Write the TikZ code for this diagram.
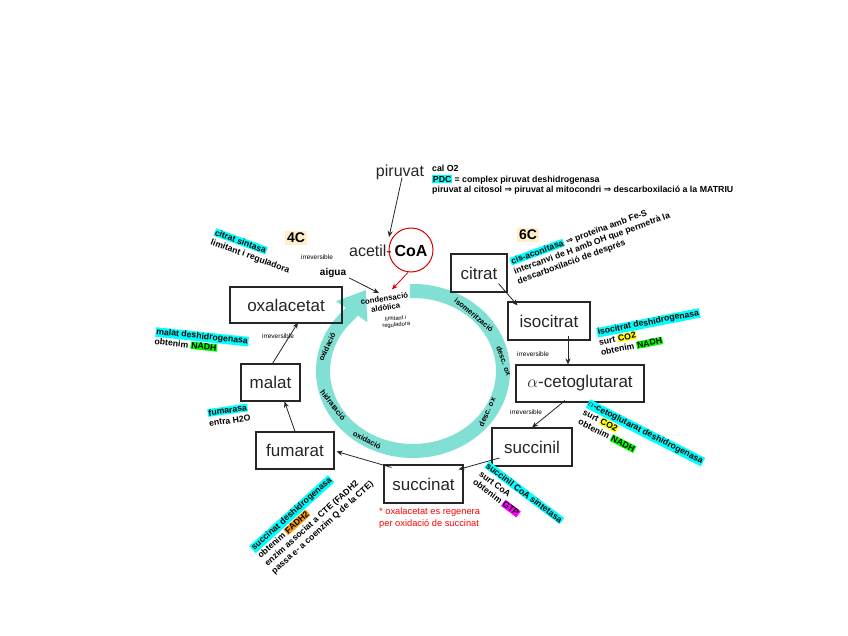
\documentclass[tikz,border=0pt]{standalone}
\usepackage{fontspec}
\setmainfont{Liberation Sans}
\newfontfamily\djv{DejaVu Sans}
\usetikzlibrary{arrows.meta}
\definecolor{ringc}{RGB}{128,224,212}
\definecolor{hcyan}{RGB}{0,255,255}
\definecolor{hyel}{RGB}{255,255,0}
\definecolor{hgreen}{RGB}{0,255,0}
\definecolor{horange}{RGB}{255,153,0}
\definecolor{hmag}{RGB}{255,0,255}
\definecolor{beige}{RGB}{255,238,200}
\newcommand{\hlb}[2]{{\setlength{\fboxsep}{0.7pt}\colorbox{#1}{#2}}}
\newcommand{\impl}{{\djv ⇒}}
\tikzset{
  metab/.style={draw=black!85, line width=1.1pt, inner sep=0pt, font=\fontsize{17}{18}\selectfont, text=black!85},
  arr/.style={-{Stealth[length=6pt,width=5pt]}, line width=0.8pt, black!85},
  enz/.style={anchor=north west, align=left, inner sep=0pt, font=\fontsize{8.7}{10.3}\selectfont\bfseries},
  cyc/.style={inner sep=0pt, font=\fontsize{7.5}{8}\selectfont\bfseries},
  irr/.style={inner sep=0pt, font=\fontsize{6.5}{7}\selectfont},
  cc/.style={fill=beige, inner sep=2pt, font=\fontsize{14}{15}\selectfont\bfseries}
}
\begin{document}
\begin{tikzpicture}[x=1pt,y=-1pt]
\useasboundingbox[fill=white] (0,0) rectangle (848,636);

% ring
\draw[ringc, line width=14pt, -{Triangle[width=36pt,length=26pt]}]
  (413+90*cos -92, 371+80*sin -92) arc[start angle=-92, end angle=226, x radius=90, y radius=80] -- (366,290);

% metabolites
\node[metab, minimum width=56pt, minimum height=38pt] (citrat) at (479,273) {citrat};
\node[metab, minimum width=82pt, minimum height=38pt] (isocitrat) at (549,321) {isocitrat};
\node[metab, minimum width=128pt, minimum height=37pt] (acg) at (580,383.5) {$\alpha$-cetoglutarat};
\node[metab, minimum width=80pt, minimum height=38pt] (succinil) at (532,447) {succinil};
\node[metab, minimum width=79pt, minimum height=38pt] (succinat) at (423.5,484) {succinat};
\node[metab, minimum width=78pt, minimum height=37pt] (fumarat) at (295,450.5) {fumarat};
\node[metab, minimum width=59pt, minimum height=37pt] (malat) at (270.5,382.5) {malat};
\node[metab, minimum width=112pt, minimum height=36pt] (oxal) at (286,305) {oxalacetat};

\draw[arr] ([shift={(-9,-9)}]citrat.south east) -- ([shift={(10,4)}]isocitrat.north west);
\draw[arr] ([shift={(19,-5)}]isocitrat.south) -- ([shift={(-12,0)}]acg.north);
\draw[arr] ([shift={(-15,-2)}]acg.south) -- (succinil.north);
\draw[arr] ([shift={(8,11)}]succinil.west) -- ([shift={(-5,5)}]succinat.north east);
\draw[arr] ([shift={(8,3)}]succinat.north west) -- ([shift={(2,1)}]fumarat.east);
\draw[arr] (fumarat.north) -- ([shift={(14,0)}]malat.south);
\draw[arr] ([shift={(2,0)}]malat.north) -- ([shift={(12,-1)}]oxal.south);

% pyruvate / acetyl-CoA
\node[inner sep=0pt, font=\fontsize{16}{18}\selectfont, text=black!85] (piruvat) at (400,172) {piruvat};
\node[anchor=north west, align=left, inner sep=0pt, font=\fontsize{8.8}{10.6}\selectfont\bfseries] (pdc) at (432,165)
 {cal O2\\ \hlb{hcyan}{PDC} = complex piruvat deshidrogenasa\\ piruvat al citosol \impl{} piruvat al mitocondri \impl{} descarboxilació a la MATRIU};
\node[anchor=east, inner sep=0pt, font=\fontsize{16}{18}\selectfont, text=black!85] (acetil) at (392,251) {acetil-};
\node[inner sep=0pt, font=\fontsize{16}{18}\selectfont\bfseries] (coalbl) at (411,251) {CoA};
\node[draw=red!85!black, line width=1pt, circle, minimum size=44pt, inner sep=0pt] (coa) at (411,250) {};
\draw[arr] ([shift={(2,-2)}]piruvat.south) -- ([shift={(-3,-8)}]acetil.north east);

\node[inner sep=0pt, font=\fontsize{10}{11}\selectfont\bfseries] (aigua) at (333,273) {aigua};
\node[cyc, rotate=8, align=center, font=\fontsize{7.8}{9}\selectfont\bfseries] (cond) at (385,303) {condensació\\aldòlica};
\node[irr, rotate=5, align=center, font=\fontsize{5.8}{6.5}\selectfont] (limit) at (396,322) {limitant i\\reguladora};
\coordinate (condtop) at (379,293);
\draw[arr] ([shift={(3,5)}]aigua.east) -- (condtop);
\draw[arr, red!85!black] ([shift={(-3,0)}]coa.south) -- ([shift={(8,-6)}]cond.north);

% 4C / 6C
\node[cc] (c4) at (296,238) {4C};
\node[cc] (c6) at (528,235) {6C};

% irreversible
\node[irr] (irr1) at (317,257) {irreversible};
\node[irr] (irr2) at (278,336) {irreversible};
\node[irr] (irr3) at (533,354) {irreversible};
\node[irr] (irr4) at (526,412) {irreversible};

% ring labels
\node[cyc, rotate=-40] (l1) at (474,315) {isomerització};
\node[cyc, rotate=-70] (l2) at (504,361) {desc. ox};
\node[cyc, rotate=66] (l3) at (487,412) {desc. ox};
\node[cyc, rotate=-28] (l4) at (367,440) {oxidació};
\node[cyc, rotate=-52] (l5) at (333,405) {hidratació};
\node[cyc, rotate=65] (l6) at (327,347) {oxidació};

% enzymes
\node[enz, rotate=-20] (cs) at (216,228) {\hlb{hcyan}{citrat sintasa}\\ limitant i reguladora};
\node[enz, rotate=20] (aco) at (509,258) {\hlb{hcyan}{cis-aconitasa} \impl{} proteïna amb Fe-S\\ intercanvi de H amb OH que permetrà la\\ descarboxilació de després};
\node[enz, rotate=11] (idh) at (596,328) {\hlb{hcyan}{isocitrat deshidrogenasa}\\ surt \hlb{hyel}{CO2}\\ obtenim \hlb{hgreen}{NADH}};
\node[enz, rotate=-27] (kdh) at (590,399) {\hlb{hcyan}{$\alpha$-cetoglutarat deshidrogenasa}\\ surt \hlb{hyel}{CO2}\\ obtenim \hlb{hgreen}{NADH}};
\node[enz, rotate=-37] (scs) at (489,461) {\hlb{hcyan}{succinil CoA sintetasa}\\ surt CoA\\ obtenim \hlb{hmag}{GTP}};
\node[enz, rotate=42] (sdh) at (249,546) {\hlb{hcyan}{succinat deshidrogenasa}\\ obtenim \hlb{horange}{FADH2}\\ enzim associat a CTE (FADH2\\ passa e- a coenzim Q de la CTE)};
\node[enz, rotate=-6] (mdh) at (156,327) {\hlb{hcyan}{malat deshidrogenasa}\\ obtenim \hlb{hgreen}{NADH}};
\node[enz, rotate=8] (fum) at (207,409) {\hlb{hcyan}{fumarasa}\\ entra H2O};

\node[anchor=north west, align=left, inner sep=0pt, text=red, font=\fontsize{9.3}{11.5}\selectfont] (note) at (379,508)
 {* oxalacetat es regenera\\ per oxidació de succinat};
\end{tikzpicture}
\end{document}
